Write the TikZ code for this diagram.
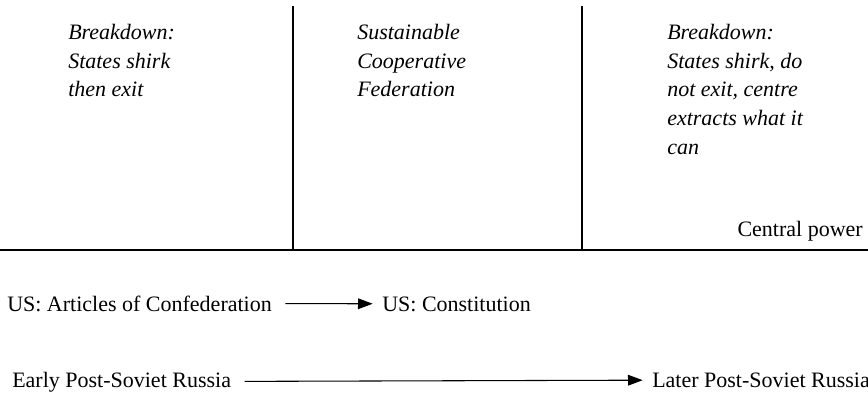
\documentclass[tikz,border=0pt]{standalone}
\usepackage{fontspec}
\setmainfont{Liberation Serif}
\usetikzlibrary{positioning,arrows.meta}

\begin{document}
\begin{tikzpicture}[x=0.75pt, y=-0.75pt, font=\fontsize{16.5}{21.5}\selectfont]
    \tikzstyle{outcome} = [anchor=north west, align=left, inner sep=0pt, font=\fontsize{16.5}{21.5}\selectfont\itshape]
    \tikzstyle{case} = [anchor=base west, inner sep=0pt]
    \tikzstyle{axis} = [line width=1.4pt]
    \tikzstyle{move} = [-{Triangle[length=11pt, width=8pt]}, line width=0.8pt, shorten <=10pt, shorten >=7pt]

    \useasboundingbox (0,0) rectangle (868,396);

    \draw[axis] (0,250) -- (868,250);
    \draw[axis] (293,6) -- (293,250);
    \draw[axis] (582,6) -- (582,250);

    \node[outcome] (exit) at (68,24) {Breakdown:\\States shirk\\then exit};
    \node[outcome] (coop) at (357,24) {Sustainable\\Cooperative\\Federation};
    \node[outcome] (extract) at (667,24) {Breakdown:\\States shirk, do\\not exit, centre\\extracts what it\\can};
    \node[anchor=base east, inner sep=0pt] (power) at (863,236) {Central power};

    \node[case] (articles) at (7,311) {US: Articles of Confederation};
    \node[case] (constitution) at (382,311) {US: Constitution};
    \node[case] (early) at (12,387) {Early Post-Soviet Russia};
    \node[case] (later) at (652,387) {Later Post-Soviet Russia};

    \draw[move] (articles) -- (constitution);
    \draw[move] (early) -- (later);
\end{tikzpicture}
\end{document}
